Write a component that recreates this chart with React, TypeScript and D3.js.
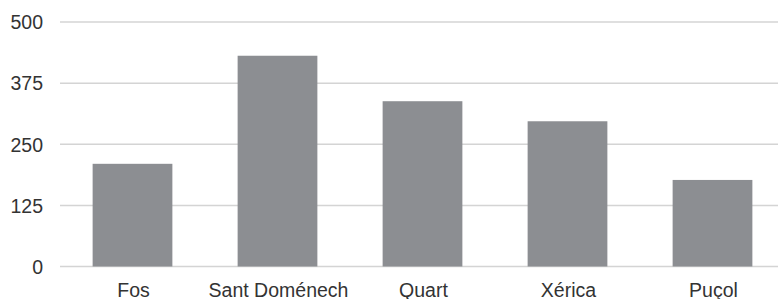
import * as React from 'react'
import {scaleBand, scaleLinear} from 'd3'

const categories = ['Fos', 'Sant Doménech', 'Quart', 'Xérica', 'Puçol']
const values = [210, 431, 338, 297, 177]
const yTicks = [0, 125, 250, 375, 500]

const W = 778
const H = 299

export default function App() {
  const x = scaleBand<string>().domain(categories).range([60, 785]).paddingInner(0.45).paddingOuter(0.225)
  const y = scaleLinear().domain([0, 500]).range([266.5, 22])

  return (
    <div style={{position: 'absolute', left: 0, top: 0}}>
      <svg width={W} height={H} style={{display: 'block', fontFamily: 'Liberation Sans, Arial, sans-serif'}}>
        <rect width={W} height={H} fill="#fff" />
        {yTicks.map(t => (
          <g key={t}>
            <line x1={60} x2={W} y1={y(t)} y2={y(t)} stroke="#d4d4d4" strokeWidth={1.5} />
            <text x={43} y={y(t) + 7.3} textAnchor="end" fontSize={19.5} fill="#333">{t}</text>
          </g>
        ))}
        {categories.map((c, i) => (
          <rect key={c} x={x(c)} y={y(values[i])} width={x.bandwidth()} height={y(0) - y(values[i])} fill="#8c8e92" />
        ))}
        {categories.map(c => (
          <text key={c} x={(x(c) as number) + x.bandwidth() / 2 + 1} y={296.5} textAnchor="middle" fontSize={19.5} fill="#333">{c}</text>
        ))}
      </svg>
    </div>
  )
}
